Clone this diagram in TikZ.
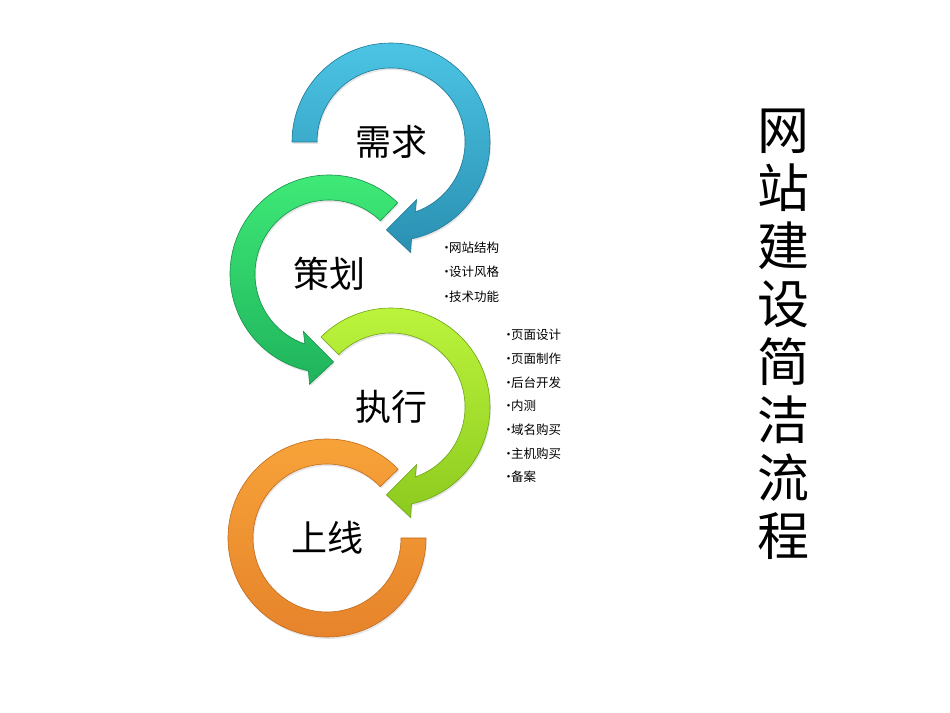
\documentclass[tikz,border=0pt]{standalone}
\usepackage{fontspec}
\newfontfamily\cjk{Noto Sans CJK SC}
\usepackage{tikz}
\usetikzlibrary{shadows}

\definecolor{bluetop}{HTML}{4CC4E4}
\definecolor{bluebot}{HTML}{2A90B2}
\definecolor{blueedge}{HTML}{1F7896}
\definecolor{greentop}{HTML}{40EC78}
\definecolor{greenbot}{HTML}{1FB35C}
\definecolor{greenedge}{HTML}{16904A}
\definecolor{limetop}{HTML}{BEF63E}
\definecolor{limebot}{HTML}{8CCA1E}
\definecolor{limeedge}{HTML}{6EA414}
\definecolor{orangetop}{HTML}{F8A43A}
\definecolor{orangebot}{HTML}{E5822A}
\definecolor{orangeedge}{HTML}{C26A1C}

\newcommand{\bul}{\makebox[5pt][c]{•}}

\begin{document}
\begin{tikzpicture}[x=1pt, y=1pt,
    ring/.style={draw=#1edge, line width=0.6pt, top color=#1top, bottom color=#1bot,
        drop shadow={opacity=0.2, shadow xshift=1pt, shadow yshift=-2pt}},
    stage/.style={font=\cjk\fontsize{36}{40}\selectfont, inner sep=0pt}]
    \useasboundingbox (0,0) rectangle (950,712);

    \coordinate (needc) at (391,570);
    \coordinate (planc) at (329,438);
    \coordinate (execc) at (391,305);
    \coordinate (livec) at (327,174);

    % rings, bottom one first
    \path[ring=orange] ([shift={(44:99pt)}]livec) arc[start angle=44, end angle=360, radius=99pt]
        -- ([shift={(0:74pt)}]livec) arc[start angle=360, end angle=44, radius=74pt] -- cycle;
    \path[ring=lime] ([shift={(135:99pt)}]execc) arc[start angle=135, end angle=-78, radius=99pt]
        -- ([shift={(-80:112pt)}]execc) -- ([shift={(-93:88pt)}]execc) -- ([shift={(-66:63pt)}]execc)
        -- ([shift={(-71:74pt)}]execc) arc[start angle=-71, end angle=135, radius=74pt] -- cycle;
    \path[ring=green] ([shift={(46:99pt)}]planc) arc[start angle=46, end angle=258, radius=99pt]
        -- ([shift={(260:112pt)}]planc) -- ([shift={(273:88pt)}]planc) -- ([shift={(246:63pt)}]planc)
        -- ([shift={(251:74pt)}]planc) arc[start angle=251, end angle=46, radius=74pt] -- cycle;
    \path[ring=blue] ([shift={(180:99pt)}]needc) arc[start angle=180, end angle=-78, radius=99pt]
        -- ([shift={(-80:112pt)}]needc) -- ([shift={(-93:88pt)}]needc) -- ([shift={(-66:63pt)}]needc)
        -- ([shift={(-71:74pt)}]needc) arc[start angle=-71, end angle=180, radius=74pt] -- cycle;

    % stage names
    \node[stage] (need) at (needc) {需求};
    \node[stage] (plan) at (planc) {策划};
    \node[stage] (exec) at (execc) {执行};
    \node[stage] (live) at (livec) {上线};

    % item lists
    \node[font=\cjk\fontsize{12.5}{24.5}\selectfont, align=left, anchor=west, inner sep=0pt]
        (planitems) at (444,440) {\bul{}网站结构\\\bul{}设计风格\\\bul{}技术功能};
    \node[font=\cjk\fontsize{12.5}{23.7}\selectfont, align=left, anchor=west, inner sep=0pt]
        (execitems) at (506,306) {\bul{}页面设计\\\bul{}页面制作\\\bul{}后台开发\\\bul{}内测\\\bul{}域名购买\\\bul{}主机购买\\\bul{}备案};

    % title
    \node[font=\cjk\fontsize{52}{58}\selectfont, align=center, inner sep=0pt]
        (title) at (783,378) {网\\站\\建\\设\\简\\洁\\流\\程};
\end{tikzpicture}
\end{document}
